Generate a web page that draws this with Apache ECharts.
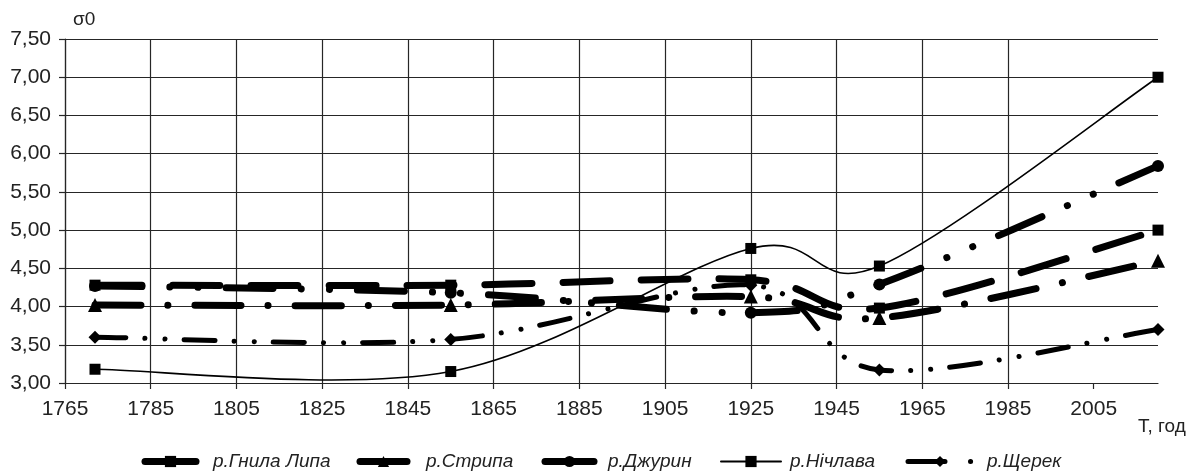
<!DOCTYPE html>
<html>
<head>
<meta charset="utf-8">
<script src="https://cdn.jsdelivr.net/npm/echarts@6/dist/echarts.min.js"></script>
<style>
  html, body { margin: 0; padding: 0; background: #fff; }
  #chart { width: 1200px; height: 474px; }
</style>
</head>
<body>
<div id="chart"></div>
<script>
// Observation years (x) and the σ0 value of each river at those years
const years = [1772, 1855, 1925, 1955, 2020];
const hnylaLypa = [4.28, 4.28, 4.35, 3.98, 5.00];
const strypa    = [4.02, 4.02, 4.13, 3.85, 4.60];
const dzhuryn   = [4.27, 4.18, 3.92, 4.29, 5.84];
const nichlava  = [3.18, 3.15, 4.76, 4.53, 7.00];
const sherek    = [3.60, 3.57, 4.28, 3.17, 3.70];

const seriesNames = ['р.Гнила Липа', 'р.Стрипа', 'р.Джурин', 'р.Нічлава', 'р.Щерек'];

// Axis ticks
const xTicks = [1765, 1785, 1805, 1825, 1845, 1865, 1885, 1905, 1925, 1945, 1965, 1985, 2005];
const xMin = 1765, xMax = 2020, xStep = 20;
const yMin = 3.0, yMax = 7.5, yStep = 0.5;

const yAxisTitle = 'σ0';
const xAxisTitle = 'T, год';

const FONT = "'Liberation Sans Narrow', 'Arial Narrow', 'Liberation Sans', Arial, sans-serif";
const INK = '#000';
const GRID = '#262626';

// Per-river drawing style and legend placement
const styles = [
  { values: hnylaLypa, symbol: 'rect',     size: 11, width: 7,   dash: [47, 31],
    lg: { left: 141.5, w: 51, line: 7, pad: 12, type: 'solid' } },
  { values: strypa,    symbol: 'triangle', size: 14, width: 7,   dash: [46, 27, 0.1, 27],
    lg: { left: 356.5, w: 47, line: 7, pad: 14, type: 'solid' } },
  { values: dzhuryn,   symbol: 'circle',   size: 12, width: 7,   dash: [47, 28, 0.1, 28, 0.1, 28],
    lg: { left: 541.5, w: 49, line: 7, pad: 9, type: 'solid' } },
  { values: nichlava,  symbol: 'rect',     size: 11, width: 1.6, dash: null,
    lg: { left: 720, w: 60, line: 2, pad: 4, type: 'solid' } },
  { values: sherek,    symbol: 'diamond',  size: 13, width: 5,   dash: [31, 19, 0.1, 20, 0.1, 19],
    lg: { left: 905.5, w: 64, line: 5, pad: 10, type: [37, 25.5, 0.1, 100] } }
];

// Smoothed curve through the pixel positions of the points
// (cubic Bézier segments, tangents from neighbouring points / 6)
function smoothPathData(pts) {
  let d = 'M' + pts[0][0] + ' ' + pts[0][1];
  for (let i = 0; i < pts.length - 1; i++) {
    const p0 = pts[i - 1] || pts[i];
    const p1 = pts[i];
    const p2 = pts[i + 1];
    const p3 = pts[i + 2] || p2;
    const c1x = p1[0] + (p2[0] - p0[0]) / 6;
    const c1y = p1[1] + (p2[1] - p0[1]) / 6;
    const c2x = p2[0] - (p3[0] - p1[0]) / 6;
    const c2y = p2[1] - (p3[1] - p1[1]) / 6;
    d += ' C' + c1x + ' ' + c1y + ' ' + c2x + ' ' + c2y + ' ' + p2[0] + ' ' + p2[1];
  }
  return d;
}

function curveSeries(st, idx) {
  const pointData = years.map((y, i) => [y, st.values[i]]);
  return {
    type: 'custom',
    coordinateSystem: 'cartesian2d',
    data: pointData,
    z: 2 + idx,
    silent: true,
    renderItem: function (params, api) {
      if (params.dataIndex !== 0) return null;
      const pts = pointData.map(p => api.coord(p));
      return {
        type: 'path',
        shape: { pathData: smoothPathData(pts) },
        style: {
          fill: null,
          stroke: INK,
          lineWidth: st.width,
          lineDash: st.dash,
          lineCap: 'round',
          lineJoin: 'round'
        }
      };
    }
  };
}

function markerSeries(st, idx) {
  return {
    name: seriesNames[idx],
    type: 'line',
    data: years.map((y, i) => [y, st.values[i]]),
    symbol: st.symbol,
    symbolSize: st.size,
    showSymbol: true,
    showAllSymbol: true,
    z: 10 + idx,
    lineStyle: { width: 0, opacity: 0 },
    itemStyle: { color: INK, borderWidth: 0 },
    emphasis: { disabled: true },
    silent: true
  };
}

const legends = styles.map((st, idx) => ({
  data: [seriesNames[idx]],
  left: st.lg.left,
  top: 452,
  padding: 0,
  itemWidth: st.lg.w,
  itemHeight: 14,
  selectedMode: false,
  lineStyle: { width: st.lg.line, opacity: 1, color: INK, type: st.lg.type, cap: 'round' },
  textStyle: {
    fontFamily: FONT,
    fontStyle: 'italic',
    fontSize: 19,
    color: '#222',
    padding: [0, 0, 0, st.lg.pad]
  }
}));

const chart = echarts.init(document.getElementById('chart'), null, { renderer: 'canvas' });

chart.setOption({
  animation: false,
  backgroundColor: '#fff',
  grid: { left: 65, right: 42, top: 39, bottom: 91, containLabel: false },
  xAxis: {
    type: 'value',
    min: xMin,
    max: xMax,
    interval: xStep,
    axisLine: { show: true, lineStyle: { color: GRID, width: 1.2 } },
    axisTick: { show: true, inside: false, length: 6, customValues: xTicks, lineStyle: { color: GRID, width: 1.2 } },
    axisLabel: {
      showMaxLabel: false,
      margin: 16,
      color: '#222',
      fontFamily: FONT,
      fontSize: 21,
      formatter: v => String(v)
    },
    splitLine: { show: true, showMaxLine: false, lineStyle: { color: GRID, width: 1.2 } }
  },
  yAxis: {
    type: 'value',
    min: yMin,
    max: yMax,
    interval: yStep,
    axisLine: { show: true, lineStyle: { color: GRID, width: 1.2 } },
    axisTick: { show: true, inside: false, length: 6, lineStyle: { color: GRID, width: 1.2 } },
    axisLabel: {
      margin: 14,
      color: '#222',
      fontFamily: FONT,
      fontSize: 21,
      formatter: v => v.toFixed(2).replace('.', ',')
    },
    splitLine: { show: true, lineStyle: { color: GRID, width: 1.2 } }
  },
  legend: legends,
  graphic: [
    {
      type: 'text', left: 73, top: 10,
      style: { text: yAxisTitle, font: "19px " + FONT, fill: '#222' }
    },
    {
      type: 'text', left: 1138, top: 417,
      style: { text: xAxisTitle, font: "19px " + FONT, fill: '#222' }
    }
  ],
  series: styles.map(curveSeries).concat(styles.map(markerSeries))
});
</script>
</body>
</html>
